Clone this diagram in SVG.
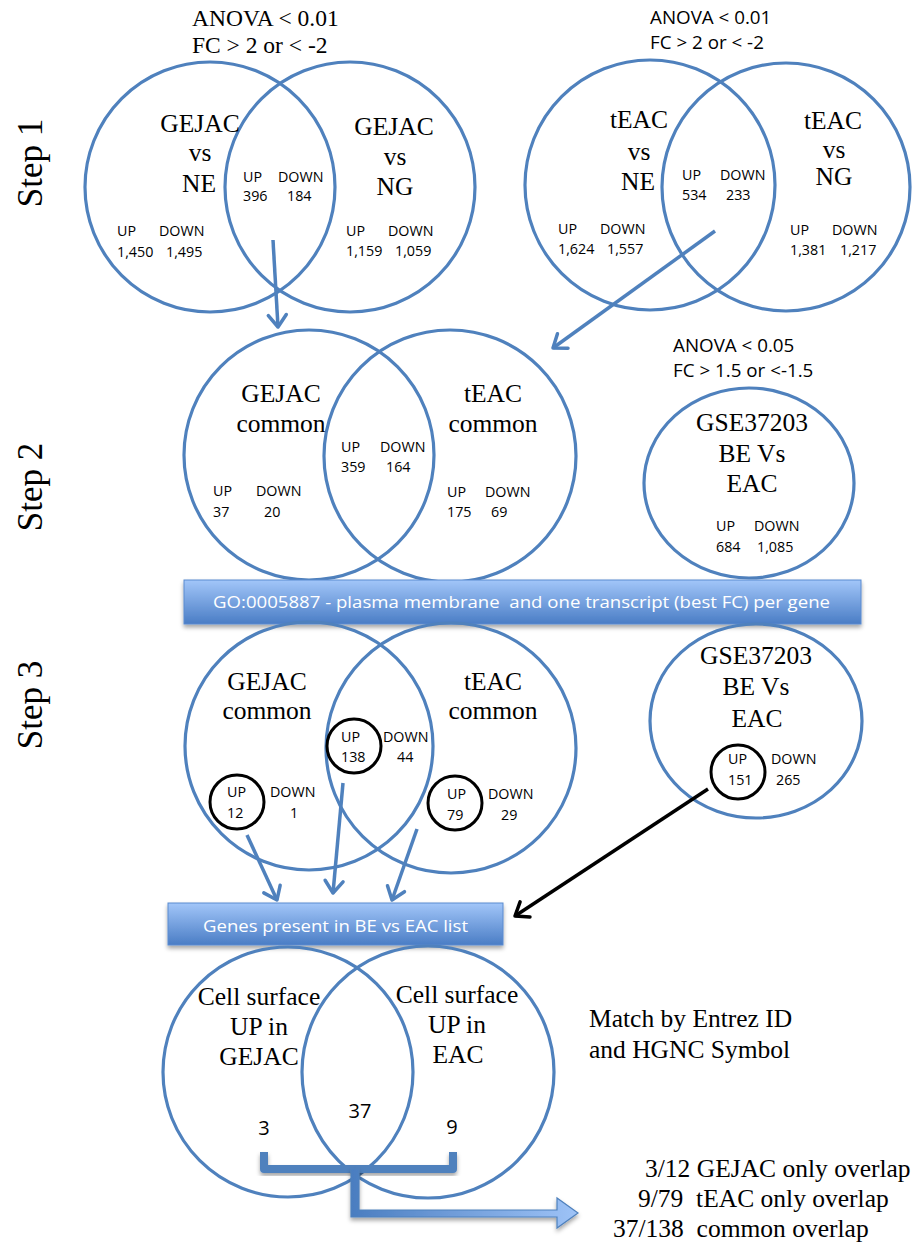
<svg xmlns="http://www.w3.org/2000/svg" width="913" height="1245" viewBox="0 0 913 1245">
<style>
.c{fill:none;stroke:#4F81BD;stroke-width:3.2}
.k{fill:none;stroke:#000;stroke-width:3}
.t{font-family:"Liberation Serif","Times New Roman",serif;font-size:25px;fill:#000;white-space:pre}
.tm{font-family:"Liberation Serif","Times New Roman",serif;font-size:25.5px;fill:#000;text-anchor:middle}
.st{font-family:"Liberation Serif","Times New Roman",serif;font-size:35px;fill:#000;text-anchor:middle}
.s{font-family:"Open Sans","Liberation Sans",sans-serif;font-size:14.3px;fill:#000}
.sb{font-family:"Open Sans","Liberation Sans",sans-serif;font-size:18.8px;fill:#000}
.n{font-family:"Open Sans","Liberation Sans",sans-serif;font-size:20px;fill:#000;text-anchor:middle}
.w{font-family:"Open Sans","Liberation Sans",sans-serif;font-size:17px;fill:#fff;white-space:pre}
.a{fill:none;stroke:#4F81BD;stroke-width:3.5}
.ab{fill:none;stroke:#000;stroke-width:3.5}
.bar{fill:url(#bg);stroke:#5A8BD0;stroke-width:1;filter:url(#sh)}
</style>
<defs>
<linearGradient id="bg" x1="0" y1="0" x2="0" y2="1">
<stop offset="0" stop-color="#A2C6F9"/>
<stop offset="1" stop-color="#4A7DC5"/>
</linearGradient>
<linearGradient id="hg" x1="0" y1="0" x2="1" y2="0">
<stop offset="0" stop-color="#4A7DC0"/>
<stop offset="1" stop-color="#9EC3F7"/>
</linearGradient>
<filter id="sh" x="-5%" y="-20%" width="110%" height="160%">
<feDropShadow dx="0" dy="3" stdDeviation="2" flood-color="#000" flood-opacity="0.35"/>
</filter>
<marker id="mb" viewBox="-15 -12 18 24" refX="0" refY="0" markerWidth="18" markerHeight="24" markerUnits="userSpaceOnUse" orient="auto">
<path d="M-12,-9 L0,0 L-12,9" fill="none" stroke="#4F81BD" stroke-width="3.5" stroke-linecap="round" stroke-linejoin="round"/>
</marker>
<marker id="mk" viewBox="-15 -12 18 24" refX="0" refY="0" markerWidth="18" markerHeight="24" markerUnits="userSpaceOnUse" orient="auto">
<path d="M-12,-9 L0,0 L-12,9" fill="none" stroke="#000" stroke-width="3.5" stroke-linecap="round" stroke-linejoin="round"/>
</marker>
</defs>
<rect width="913" height="1245" fill="#fff"/>

<g id="step-labels">
<text class="st" transform="translate(42,163) rotate(-90)">Step 1</text>
<text class="st" transform="translate(42,487) rotate(-90)">Step 2</text>
<text class="st" transform="translate(42,705) rotate(-90)">Step 3</text>
</g>

<g id="criteria1">
<text class="t" x="192" y="26" style="font-size:23.5px">ANOVA &lt; 0.01</text>
<text class="t" x="192" y="53" style="font-size:23.5px">FC &gt; 2 or &lt; -2</text>
</g>
<g id="criteria2">
<text class="sb" x="650" y="24">ANOVA &lt; 0.01</text>
<text class="sb" x="650" y="49">FC &gt; 2 or &lt; -2</text>
</g>
<g id="criteria3">
<text class="sb" x="673" y="352">ANOVA &lt; 0.05</text>
<text class="sb" x="673" y="377">FC &gt; 1.5 or &lt;-1.5</text>
</g>

<g id="venn1">
<circle class="c" cx="210" cy="187" r="125"/>
<circle class="c" cx="350" cy="187" r="125"/>
<text class="tm" x="200" y="132">GEJAC</text>
<text class="tm" x="200" y="161">vs</text>
<text class="tm" x="199" y="192">NE</text>
<text class="tm" x="394" y="135">GEJAC</text>
<text class="tm" x="395" y="165">vs</text>
<text class="tm" x="395" y="195">NG</text>
<text class="s" x="243" y="182">UP</text><text class="s" x="278" y="182">DOWN</text>
<text class="s" x="243" y="201">396</text><text class="s" x="287" y="201">184</text>
<text class="s" x="117" y="236">UP</text><text class="s" x="159" y="236">DOWN</text>
<text class="s" x="117" y="257">1,450</text><text class="s" x="166" y="257">1,495</text>
<text class="s" x="346" y="236">UP</text><text class="s" x="388" y="236">DOWN</text>
<text class="s" x="346" y="256">1,159</text><text class="s" x="395" y="256">1,059</text>
</g>

<g id="venn2">
<circle class="c" cx="650" cy="185" r="125"/>
<circle class="c" cx="786" cy="187" r="124"/>
<text class="tm" x="639" y="128">tEAC</text>
<text class="tm" x="639" y="160">vs</text>
<text class="tm" x="638" y="190">NE</text>
<text class="tm" x="833" y="129">tEAC</text>
<text class="tm" x="834" y="158">vs</text>
<text class="tm" x="834" y="185">NG</text>
<text class="s" x="682" y="180">UP</text><text class="s" x="720" y="180">DOWN</text>
<text class="s" x="682" y="200">534</text><text class="s" x="726" y="200">233</text>
<text class="s" x="558" y="234">UP</text><text class="s" x="600" y="234">DOWN</text>
<text class="s" x="558" y="254">1,624</text><text class="s" x="607" y="254">1,557</text>
<text class="s" x="790" y="235">UP</text><text class="s" x="832" y="235">DOWN</text>
<text class="s" x="790" y="255">1,381</text><text class="s" x="840" y="255">1,217</text>
</g>

<g id="venn3">
<circle class="c" cx="309" cy="455" r="125"/>
<circle class="c" cx="450" cy="456" r="126"/>
<text class="tm" x="281" y="402">GEJAC</text>
<text class="tm" x="281" y="432">common</text>
<text class="tm" x="493" y="402">tEAC</text>
<text class="tm" x="493" y="432">common</text>
<text class="s" x="341" y="452">UP</text><text class="s" x="380" y="452">DOWN</text>
<text class="s" x="341" y="472">359</text><text class="s" x="386" y="472">164</text>
<text class="s" x="213" y="496">UP</text><text class="s" x="256" y="496">DOWN</text>
<text class="s" x="213" y="517">37</text><text class="s" x="264" y="517">20</text>
<text class="s" x="447" y="497">UP</text><text class="s" x="485" y="497">DOWN</text>
<text class="s" x="447" y="517">175</text><text class="s" x="491" y="517">69</text>
</g>

<g id="gse1">
<ellipse class="c" cx="749" cy="483" rx="105" ry="95"/>
<text class="tm" x="752" y="431">GSE37203</text>
<text class="tm" x="752" y="462">BE Vs</text>
<text class="tm" x="752" y="492">EAC</text>
<text class="s" x="716" y="531">UP</text><text class="s" x="754" y="531">DOWN</text>
<text class="s" x="716" y="552">684</text><text class="s" x="757" y="552">1,085</text>
</g>

<g id="go-bar">
<rect class="bar" x="184" y="580" width="677" height="44"/>
<text class="w" x="213" y="608" textLength="617" lengthAdjust="spacingAndGlyphs">GO:0005887 - plasma membrane  and one transcript (best FC) per gene</text>
</g>

<g id="venn4">
<circle class="c" cx="309" cy="746" r="124"/>
<circle class="c" cx="451" cy="748" r="125"/>
<text class="tm" x="267" y="690">GEJAC</text>
<text class="tm" x="267" y="719">common</text>
<text class="tm" x="493" y="690">tEAC</text>
<text class="tm" x="493" y="719">common</text>
<circle class="k" cx="354" cy="746" r="27"/>
<text class="s" x="341" y="742">UP</text><text class="s" x="383" y="742">DOWN</text>
<text class="s" x="341" y="762">138</text><text class="s" x="397" y="762">44</text>
<circle class="k" cx="237" cy="802" r="27"/>
<text class="s" x="227" y="797">UP</text><text class="s" x="270" y="797">DOWN</text>
<text class="s" x="227" y="818">12</text><text class="s" x="290" y="818">1</text>
<circle class="k" cx="455" cy="803" r="27"/>
<text class="s" x="447" y="799">UP</text><text class="s" x="488" y="799">DOWN</text>
<text class="s" x="447" y="820">79</text><text class="s" x="501" y="820">29</text>
</g>

<g id="gse2">
<ellipse class="c" cx="756" cy="721" rx="106" ry="97"/>
<text class="tm" x="756" y="664">GSE37203</text>
<text class="tm" x="756" y="695">BE Vs</text>
<text class="tm" x="757" y="727">EAC</text>
<circle class="k" cx="738" cy="772" r="27"/>
<text class="s" x="728" y="764">UP</text><text class="s" x="771" y="764">DOWN</text>
<text class="s" x="728" y="785">151</text><text class="s" x="776" y="785">265</text>
</g>

<g id="genes-bar">
<rect class="bar" x="168" y="903" width="335" height="42"/>
<text class="w" x="203" y="932" textLength="265" lengthAdjust="spacingAndGlyphs">Genes present in BE vs EAC list</text>
</g>

<g id="venn5">
<circle class="c" cx="288" cy="1072" r="125"/>
<circle class="c" cx="428" cy="1072" r="126"/>
<text class="tm" x="259" y="1005">Cell surface</text>
<text class="tm" x="259" y="1035">UP in</text>
<text class="tm" x="259" y="1065">GEJAC</text>
<text class="tm" x="457" y="1003">Cell surface</text>
<text class="tm" x="457" y="1033">UP in</text>
<text class="tm" x="458" y="1063">EAC</text>
<text class="n" x="264" y="1135">3</text>
<text class="n" x="360" y="1118">37</text>
<text class="n" x="452" y="1134">9</text>
</g>

<g id="notes">
<text class="t" x="589" y="1027" style="font-size:25.5px">Match by Entrez ID</text>
<text class="t" x="589" y="1058" style="font-size:25.5px">and HGNC Symbol</text>
<text class="t" x="645" y="1177" style="font-size:25.5px">3/12 GEJAC only overlap</text>
<text class="t" x="638" y="1207" style="font-size:25.5px">9/79  tEAC only overlap</text>
<text class="t" x="613" y="1237" style="font-size:25.5px">37/138  common overlap</text>
</g>

<g id="connectors">
<line class="a" x1="273" y1="240" x2="278" y2="327" marker-end="url(#mb)"/>
<line class="a" x1="715" y1="231" x2="553" y2="348" marker-end="url(#mb)"/>
<line class="a" x1="247" y1="835" x2="277" y2="900" marker-end="url(#mb)"/>
<line class="a" x1="343" y1="783" x2="333" y2="893" marker-end="url(#mb)"/>
<line class="a" x1="417" y1="829" x2="392" y2="900" marker-end="url(#mb)"/>
<line class="ab" x1="708" y1="789" x2="515" y2="916" marker-end="url(#mk)"/>
<path d="M264,1152 L264,1169 L453,1169 L453,1152" fill="none" stroke="#4F81BD" stroke-width="8" stroke-linejoin="round" filter="url(#sh)"/>
<path d="M351,1169 L359,1169 L359,1210 L557,1210 L557,1198 L578,1213 L557,1228 L557,1217 L351,1217 Z" fill="url(#hg)" stroke="#4F81BD" stroke-width="1.2" filter="url(#sh)"/>
</g>
</svg>
